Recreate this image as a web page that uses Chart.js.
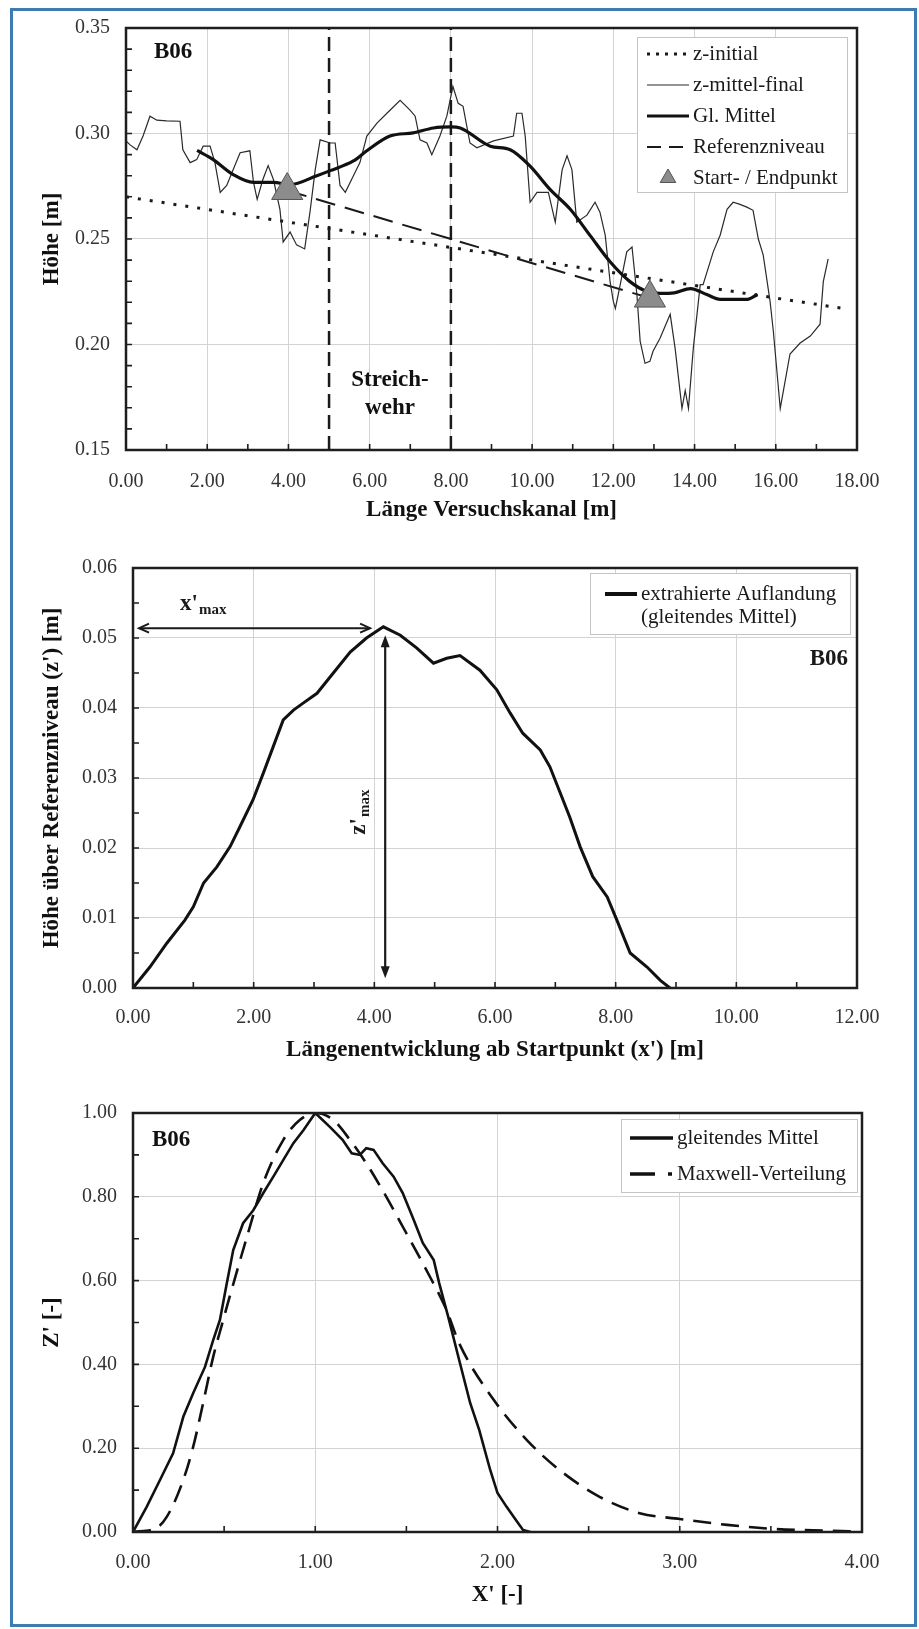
<!DOCTYPE html>
<html lang="de">
<head>
<meta charset="utf-8">
<title>B06 – Auflandung</title>
<script src="https://cdn.jsdelivr.net/npm/chart.js@4.4.1/dist/chart.umd.min.js"></script>
<style>
  html, body { margin: 0; padding: 0; background: #fff; }
  #page { position: relative; width: 919px; height: 1629px; overflow: hidden; }
  #c1, #c2, #c3 { position: absolute; left: 0; }
  #c1 { top: 0; }
  #c2 { top: 540px; }
  #c3 { top: 1080px; }
  #frame { position: absolute; left: 10px; top: 8px; width: 907px; height: 1619px;
           box-sizing: border-box; border: 3px solid #3c7bb4; pointer-events: none; }
</style>
</head>
<body>
<div id="page">
  <canvas id="c1" width="919" height="540"></canvas>
  <canvas id="c2" width="919" height="540"></canvas>
  <canvas id="c3" width="919" height="549"></canvas>
  <div id="frame"></div>
</div>
<script>
// ---------- Bild 1: Längsprofil ----------
const initX = [0, 4, 8, 12, 16, 17.7];
const initZ = [0.270, 0.258, 0.246, 0.234, 0.222, 0.217];

const finalX = [0, 0.1, 0.27, 0.42, 0.59, 0.76, 1.0, 1.33, 1.4, 1.58,
  1.74, 1.9, 2.07, 2.19, 2.32, 2.48, 2.64, 2.81, 3.05, 3.14,
  3.23, 3.37, 3.5, 3.63, 3.79, 3.87, 4.04, 4.2, 4.4, 4.53,
  4.66, 4.78, 5.03, 5.15, 5.27, 5.4, 5.6, 5.76, 5.93, 6.18,
  6.5, 6.75, 7.0, 7.12, 7.24, 7.41, 7.53, 7.73, 7.9, 8.05,
  8.18, 8.3, 8.47, 8.64, 9.05, 9.54, 9.62, 9.75, 9.83, 9.95,
  10.12, 10.4, 10.57, 10.74, 10.86, 10.98, 11.1, 11.35, 11.55, 11.67,
  11.8, 11.92, 12.0, 12.05, 12.17, 12.33, 12.46, 12.58, 12.66, 12.78,
  12.9, 12.98, 13.15, 13.4, 13.52, 13.69, 13.77, 13.85, 13.97, 14.14,
  14.21, 14.46, 14.63, 14.8, 14.95, 15.12, 15.3, 15.44, 15.57, 15.69,
  15.86, 15.94, 16.11, 16.35, 16.6, 16.85, 17.09, 17.17, 17.29];
const finalZ = [0.2965, 0.2946, 0.2923, 0.2988, 0.3082, 0.3063, 0.306, 0.3058, 0.2923, 0.2862,
  0.2876, 0.294, 0.294, 0.2862, 0.2721, 0.2754, 0.2829, 0.2909, 0.2918, 0.2768,
  0.2688, 0.2782, 0.2848, 0.2782, 0.2641, 0.2486, 0.2533, 0.2472, 0.2453, 0.2627,
  0.2829, 0.297, 0.2955, 0.2955, 0.2754, 0.2721, 0.280, 0.2862, 0.2988, 0.3049,
  0.311, 0.3157, 0.311, 0.3082, 0.297, 0.2955, 0.2899, 0.2988, 0.3082, 0.3223,
  0.3143, 0.3129, 0.2955, 0.2932, 0.2965, 0.2988, 0.3096, 0.3096, 0.2988, 0.2674,
  0.2721, 0.2721, 0.258, 0.2829, 0.2894, 0.2829, 0.258, 0.2613, 0.2674, 0.2627,
  0.2518, 0.2298, 0.2204, 0.2171, 0.2284, 0.2439, 0.2462, 0.2237, 0.2016, 0.1911,
  0.192, 0.1969, 0.203, 0.2143, 0.1984, 0.1697, 0.1782, 0.1697, 0.1984, 0.2284,
  0.2284, 0.2439, 0.2518, 0.2641, 0.2674, 0.2664, 0.265, 0.2636, 0.25, 0.2425,
  0.2204, 0.2063, 0.1697, 0.1955, 0.2007, 0.204, 0.2096, 0.2298, 0.2406];

const meanX = [1.75, 2.15, 2.64, 3.14, 3.63, 4.04, 4.7, 5.03, 5.6, 5.93,
  6.5, 7.07, 7.57, 8.0, 8.23, 8.97, 9.46, 9.95, 10.44, 10.94,
  11.43, 11.92, 12.41, 12.83, 13.15, 13.5, 13.9, 14.3, 14.63, 15.3, 15.55];
const meanZ = [0.292, 0.2876, 0.2805, 0.2768, 0.2768, 0.2758, 0.280, 0.2824, 0.287, 0.2918,
  0.2988, 0.3003, 0.3026, 0.3031, 0.3026, 0.294, 0.2923, 0.2845, 0.2735, 0.2641,
  0.2516, 0.2392, 0.2298, 0.2251, 0.2242, 0.2245, 0.2265, 0.2237, 0.2214, 0.2214, 0.2237];

const markX = [3.97, 12.9];      // Start- / Endpunkt
const markZ = [0.273, 0.222];
const weirX = [5, 8];            // Streichwehr
const len1 = [0, 18, 2];         // x-Achse: min, max, Schritt
const hoehe1 = [0.15, 0.35, 0.05];

// ---------- Bild 2: extrahierte Auflandung ----------
const auflX = [0, 0.28, 0.56, 0.86, 1.0, 1.17, 1.39, 1.61, 1.77, 1.99,
  2.16, 2.49, 2.66, 2.82, 3.05, 3.32, 3.6, 3.87, 4.15, 4.43,
  4.7, 4.98, 5.2, 5.42, 5.75, 6.03, 6.25, 6.46, 6.75, 6.91,
  7.08, 7.24, 7.41, 7.62, 7.86, 8.02, 8.24, 8.52, 8.74, 8.9];
const auflZ = [0, 0.003, 0.0064, 0.0097, 0.0116, 0.015, 0.0173, 0.0202, 0.023, 0.0269,
  0.0307, 0.0383, 0.0397, 0.0407, 0.0421, 0.045, 0.048, 0.050, 0.0516, 0.0504,
  0.0486, 0.0464, 0.0471, 0.0475, 0.0454, 0.0426, 0.0393, 0.0364, 0.034, 0.0316,
  0.0279, 0.0244, 0.0202, 0.0159, 0.013, 0.0097, 0.005, 0.003, 0.0011, 0];
const len2 = [0, 12, 2];
const hoehe2 = [0, 0.06, 0.01];
const xMaxArrow = [0.1, 3.93];   // Pfeil x'max (von, bis) auf Höhe
const xMaxArrowZ = 0.0514;
const zMaxArrowX = 4.18;         // Pfeil z'max bei x'
const zMaxArrow = [0.0014, 0.0504];

// ---------- Bild 3: normiert ----------
const gmX = [0, 0.075, 0.148, 0.22, 0.276, 0.33, 0.395, 0.44, 0.477, 0.515,
  0.55, 0.604, 0.66, 0.715, 0.77, 0.825, 0.88, 0.935, 1.0, 1.08,
  1.15, 1.2, 1.245, 1.28, 1.32, 1.37, 1.43, 1.48, 1.54, 1.59,
  1.65, 1.68, 1.73, 1.79, 1.85, 1.9, 1.96, 2.0, 2.05, 2.1, 2.14, 2.18];
const gmZ = [0, 0.06, 0.124, 0.188, 0.275, 0.331, 0.394, 0.458, 0.506, 0.594,
  0.673, 0.737, 0.768, 0.809, 0.848, 0.888, 0.928, 0.959, 1.0, 0.967,
  0.936, 0.904, 0.9, 0.916, 0.912, 0.88, 0.848, 0.809, 0.745, 0.69,
  0.649, 0.594, 0.513, 0.41, 0.308, 0.243, 0.148, 0.093, 0.06, 0.029, 0.005, 0];
const mxX = [0, 0.13, 0.185, 0.27, 0.33, 0.385, 0.44, 0.495, 0.53, 0.625,
  0.715, 0.825, 0.915, 1.0, 1.1, 1.19, 1.28, 1.39, 1.5, 1.61,
  1.72, 1.79, 1.98, 2.16, 2.34, 2.56, 2.78, 3.0, 3.26, 3.53, 3.81, 3.99];
const mxZ = [0, 0.01, 0.036, 0.117, 0.203, 0.308, 0.418, 0.506, 0.561, 0.704,
  0.833, 0.936, 0.983, 1.0, 0.983, 0.936, 0.88, 0.8, 0.713, 0.625,
  0.53, 0.45, 0.315, 0.22, 0.148, 0.084, 0.045, 0.031, 0.017, 0.007, 0.003, 0.001];
const len3 = [0, 4, 1];
const hoehe3 = [0, 1, 0.2];

// ---------------------------------------------------------
const SERIF = '"Liberation Serif", "Times New Roman", serif';
Chart.defaults.font.family = SERIF;
Chart.defaults.color = '#333';

const pts = (xs, ys) => xs.map((x, i) => ({ x: x, y: ys[i] }));

// inside tick marks + black frame round the plot area
const frameTicks = {
  id: 'frameTicks',
  afterDatasetsDraw(chart, args, o) {
    const { ctx, chartArea: a, scales: { x, y } } = chart;
    ctx.save();
    ctx.strokeStyle = '#1e1e1e';
    ctx.lineWidth = 1.6;
    ctx.beginPath();
    let n = Math.round((x.max - x.min) / o.xMinor);
    for (let i = 0; i <= n; i++) {
      const px = x.getPixelForValue(x.min + i * o.xMinor);
      ctx.moveTo(px, a.bottom); ctx.lineTo(px, a.bottom - 6);
    }
    n = Math.round((y.max - y.min) / o.yMinor);
    for (let i = 0; i <= n; i++) {
      const py = y.getPixelForValue(y.min + i * o.yMinor);
      ctx.moveTo(a.left, py); ctx.lineTo(a.left + 6, py);
    }
    ctx.stroke();
    ctx.lineWidth = 2.5;
    ctx.strokeRect(a.left, a.top, a.right - a.left, a.bottom - a.top);
    ctx.restore();
  }
};

// legend box inside the plot area (top right)
const boxLegend = {
  id: 'boxLegend',
  afterDraw(chart, args, o) {
    const { ctx, chartArea: a } = chart;
    const x0 = a.right - o.right - o.width, y0 = a.top + o.top;
    ctx.save();
    ctx.fillStyle = '#fff';
    ctx.fillRect(x0, y0, o.width, o.height);
    ctx.strokeStyle = '#c4c4c4';
    ctx.lineWidth = 1;
    ctx.strokeRect(x0 + 0.5, y0 + 0.5, o.width, o.height);
    ctx.font = '21px ' + SERIF;
    ctx.textBaseline = 'middle';
    let row = 0;
    chart.data.datasets.forEach(ds => {
      if (!ds.label) return;
      const cy = y0 + o.firstRow + row * o.rowGap;
      const sx = x0 + o.sampleX, ex = sx + o.sampleLen;
      if (ds.showLine === false) {
        const cx = (sx + ex) / 2, r = 9;
        ctx.setLineDash([]);
        ctx.fillStyle = ds.backgroundColor;
        ctx.strokeStyle = ds.borderColor;
        ctx.lineWidth = 1;
        ctx.beginPath();
        ctx.moveTo(cx, cy - r);
        ctx.lineTo(cx + r * 0.866, cy + r / 2);
        ctx.lineTo(cx - r * 0.866, cy + r / 2);
        ctx.closePath(); ctx.fill(); ctx.stroke();
      } else {
        ctx.setLineDash(ds.legendDash || ds.borderDash || []);
        ctx.strokeStyle = ds.borderColor;
        ctx.lineWidth = ds.legendWidth || ds.borderWidth;
        ctx.beginPath(); ctx.moveTo(sx, cy); ctx.lineTo(ex, cy); ctx.stroke();
      }
      ctx.setLineDash([]);
      ctx.fillStyle = '#1a1a1a';
      const lines = [].concat(ds.label);
      lines.forEach((t, i) => ctx.fillText(t, ex + o.textGap, cy + i * o.lineGap));
      row += 1;
    });
    ctx.restore();
  }
};

function axes(xr, yr, xt, yt, box) {
  return {
    x: {
      type: 'linear', min: xr[0], max: xr[1],
      ticks: { stepSize: xr[2], padding: box.xPad, font: { size: 20 }, color: '#333',
               maxRotation: 0, autoSkip: false, callback: v => v.toFixed(2) },
      grid: { color: '#d3d3d3', lineWidth: 1, drawTicks: false },
      border: { display: false },
      title: { display: true, text: xt, color: '#111', font: { size: 23, weight: 'bold' },
               padding: { top: 0, bottom: box.xTitle } },
      afterFit: s => { s.height = box.xHeight; }
    },
    y: {
      type: 'linear', min: yr[0], max: yr[1],
      ticks: { stepSize: yr[2], padding: 16, font: { size: 20 }, color: '#333',
               callback: v => v.toFixed(2) },
      grid: { color: '#d3d3d3', lineWidth: 1, drawTicks: false },
      border: { display: false },
      title: { display: true, text: yt, color: '#111', font: { size: 23, weight: 'bold' },
               padding: { top: 38, bottom: 0 } },
      afterFit: s => { s.width = box.yWidth; }
    }
  };
}

function baseOptions(padding, minor, legend, scales) {
  return {
    responsive: false, animation: false, devicePixelRatio: 1,
    layout: { padding: padding },
    elements: { point: { radius: 0 }, line: { tension: 0 } },
    plugins: { legend: { display: false }, tooltip: { enabled: false },
               frameTicks: minor, boxLegend: legend },
    scales: scales
  };
}

// ---------- Chart 1 ----------
const notes1 = {
  id: 'notes1',
  afterDraw(chart) {
    const { ctx, chartArea: a, scales: { x, y } } = chart;
    ctx.save();
    ctx.fillStyle = '#111';
    ctx.font = 'bold 23px ' + SERIF;
    ctx.textBaseline = 'middle';
    ctx.textAlign = 'left';
    ctx.fillText('B06', a.left + 28, a.top + 24);
    ctx.textAlign = 'center';
    const cx = x.getPixelForValue((weirX[0] + weirX[1]) / 2);
    const cy = y.getPixelForValue(0.183);
    ctx.fillText('Streich-', cx, cy);
    ctx.fillText('wehr', cx, cy + 28);
    ctx.restore();
  }
};

new Chart(document.getElementById('c1'), {
  type: 'line',
  data: {
    datasets: [
      { label: 'z-initial', data: pts(initX, initZ), borderColor: '#1a1a1a', borderWidth: 3,
        borderDash: [3, 9], legendDash: [3, 6], order: 4 },
      { label: 'z-mittel-final', data: pts(finalX, finalZ), borderColor: '#2a2a2a', borderWidth: 1.2,
        order: 2 },
      { label: 'Gl. Mittel', data: pts(meanX, meanZ), borderColor: '#111', borderWidth: 3.2,
        cubicInterpolationMode: 'monotone', order: 1 },
      { label: 'Referenzniveau', data: pts(markX, markZ), borderColor: '#1a1a1a', borderWidth: 2,
        borderDash: [20, 10], legendDash: [14, 8], order: 3 },
      { label: 'Start- / Endpunkt', data: pts(markX, markZ), showLine: false, pointStyle: 'triangle',
        pointRadius: 18, backgroundColor: '#8c8c8c', borderColor: '#555', pointBorderWidth: 1, order: 0 },
      { data: pts([weirX[0], weirX[0]], [hoehe1[0], hoehe1[1]]), borderColor: '#1a1a1a', borderWidth: 2.5,
        borderDash: [14, 7], order: 5 },
      { data: pts([weirX[1], weirX[1]], [hoehe1[0], hoehe1[1]]), borderColor: '#1a1a1a', borderWidth: 2.5,
        borderDash: [14, 7], order: 5 }
    ]
  },
  options: baseOptions(
    { top: 24, right: 62, left: 0, bottom: 0 },
    { xMinor: 1, yMinor: 0.01 },
    { right: 10, top: 9, width: 210, height: 155, firstRow: 17, rowGap: 31,
      sampleX: 10, sampleLen: 42, textGap: 4, lineGap: 23 },
    axes(len1, hoehe1, 'Länge Versuchskanal [m]', 'Höhe [m]',
         { xPad: 20, xTitle: 16, xHeight: 90, yWidth: 126 })
  ),
  plugins: [frameTicks, boxLegend, notes1]
});

// ---------- Chart 2 ----------
function arrowHead(ctx, x, y, ang, len, wid, filled) {
  const bx = x - Math.cos(ang) * len, by = y - Math.sin(ang) * len;
  const nx = -Math.sin(ang) * wid, ny = Math.cos(ang) * wid;
  ctx.beginPath();
  ctx.moveTo(bx + nx, by + ny); ctx.lineTo(x, y); ctx.lineTo(bx - nx, by - ny);
  if (filled) { ctx.closePath(); ctx.fill(); } else ctx.stroke();
}

const notes2 = {
  id: 'notes2',
  afterDraw(chart) {
    const { ctx, chartArea: a, scales: { x, y } } = chart;
    ctx.save();
    ctx.strokeStyle = '#1a1a1a';
    ctx.fillStyle = '#1a1a1a';
    // x'max
    const hx1 = x.getPixelForValue(xMaxArrow[0]), hx2 = x.getPixelForValue(xMaxArrow[1]);
    const hy = y.getPixelForValue(xMaxArrowZ);
    ctx.lineWidth = 2;
    ctx.beginPath(); ctx.moveTo(hx1, hy); ctx.lineTo(hx2, hy); ctx.stroke();
    arrowHead(ctx, hx1, hy, Math.PI, 10, 4.5, false);
    arrowHead(ctx, hx2, hy, 0, 10, 4.5, false);
    // z'max
    const vx = x.getPixelForValue(zMaxArrowX);
    const vy1 = y.getPixelForValue(zMaxArrow[0]), vy2 = y.getPixelForValue(zMaxArrow[1]);
    ctx.lineWidth = 2.2;
    ctx.beginPath(); ctx.moveTo(vx, vy1 - 8); ctx.lineTo(vx, vy2 + 8); ctx.stroke();
    arrowHead(ctx, vx, vy2, -Math.PI / 2, 12, 4.5, true);
    arrowHead(ctx, vx, vy1, Math.PI / 2, 12, 4.5, true);
    // labels
    ctx.textBaseline = 'alphabetic';
    ctx.textAlign = 'left';
    const lx = x.getPixelForValue(0.78), ly = hy - 18;
    ctx.font = 'bold 23px ' + SERIF;
    ctx.fillText("x'", lx, ly);
    const w = ctx.measureText("x'").width;
    ctx.font = 'bold 15px ' + SERIF;
    ctx.fillText('max', lx + w + 1, ly + 4);
    ctx.translate(vx - 28, y.getPixelForValue(0.0219));
    ctx.rotate(-Math.PI / 2);
    ctx.font = 'bold 23px ' + SERIF;
    ctx.fillText("z'", 0, 8);
    const wz = ctx.measureText("z'").width;
    ctx.font = 'bold 15px ' + SERIF;
    ctx.fillText('max', wz + 1, 12);
    ctx.setTransform(1, 0, 0, 1, 0, 0);
    // B06
    ctx.font = 'bold 23px ' + SERIF;
    ctx.textAlign = 'right';
    ctx.textBaseline = 'middle';
    ctx.fillText('B06', a.right - 9, a.top + 91);
    ctx.restore();
  }
};

new Chart(document.getElementById('c2'), {
  type: 'line',
  data: {
    datasets: [
      { label: ['extrahierte Auflandung', '(gleitendes Mittel)'], data: pts(auflX, auflZ),
        borderColor: '#111', borderWidth: 3, legendWidth: 4 }
    ]
  },
  options: baseOptions(
    { top: 28, right: 62, left: 0, bottom: 0 },
    { xMinor: 1, yMinor: 0.005 },
    { right: 7, top: 5, width: 260, height: 61, firstRow: 21, rowGap: 36,
      sampleX: 15, sampleLen: 32, textGap: 4, lineGap: 23 },
    axes(len2, hoehe2, "Längenentwicklung ab Startpunkt (x') [m]", "Höhe über Referenzniveau (z') [m]",
         { xPad: 18, xTitle: 16, xHeight: 92, yWidth: 133 })
  ),
  plugins: [frameTicks, boxLegend, notes2]
});

// ---------- Chart 3 ----------
const notes3 = {
  id: 'notes3',
  afterDraw(chart) {
    const { ctx, chartArea: a } = chart;
    ctx.save();
    ctx.fillStyle = '#111';
    ctx.font = 'bold 23px ' + SERIF;
    ctx.textBaseline = 'middle';
    ctx.fillText('B06', a.left + 19, a.top + 27);
    ctx.restore();
  }
};

new Chart(document.getElementById('c3'), {
  type: 'line',
  data: {
    datasets: [
      { label: 'gleitendes Mittel', data: pts(gmX, gmZ), borderColor: '#111', borderWidth: 2.6,
        legendWidth: 3.5, order: 0 },
      { label: 'Maxwell-Verteilung', data: pts(mxX, mxZ), borderColor: '#111', borderWidth: 2.6,
        borderDash: [18, 10], legendDash: [25, 13, 4, 100], legendWidth: 3.5,
        cubicInterpolationMode: 'monotone', order: 1 }
    ]
  },
  options: baseOptions(
    { top: 33, right: 57, left: 0, bottom: 0 },
    { xMinor: 0.5, yMinor: 0.1 },
    { right: 5, top: 6, width: 236, height: 73, firstRow: 19, rowGap: 36,
      sampleX: 9, sampleLen: 43, textGap: 4, lineGap: 23 },
    axes(len3, hoehe3, "X' [-]", "Z' [-]",
         { xPad: 19, xTitle: 20, xHeight: 97, yWidth: 133 })
  ),
  plugins: [frameTicks, boxLegend, notes3]
});
</script>
</body>
</html>
